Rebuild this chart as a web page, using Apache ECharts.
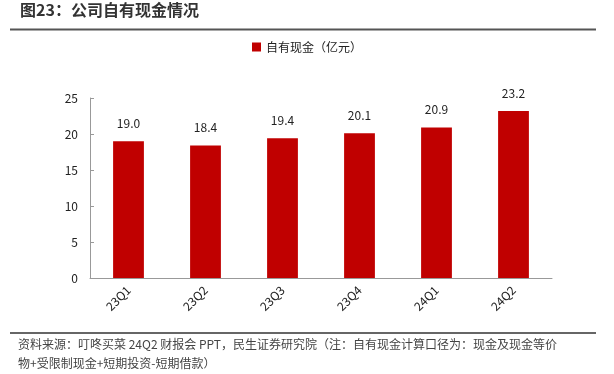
<!DOCTYPE html>
<html><head><meta charset="utf-8">
<script src="https://cdn.jsdelivr.net/npm/echarts@6/dist/echarts.min.js"></script>
<style>html,body{margin:0;padding:0;background:#fff}#c{width:614px;height:374px}</style>
</head><body><div id="c"></div>
<script>
var categories = ['23Q1','23Q2','23Q3','23Q4','24Q1','24Q2'];
var cashValues = [19.0, 18.4, 19.4, 20.1, 20.9, 23.2];
var seriesName = '自有现金（亿元）';
var titleText = '图23：公司自有现金情况';
var noteLine1 = '资料来源：叮咚买菜 24Q2 财报会 PPT，民生证券研究院（注：自有现金计算口径为：现金及现金等价';
var noteLine2 = '物+受限制现金+短期投资-短期借款）';

var F = '"Noto Sans CJK SC","Noto Sans",sans-serif';
var chart = echarts.init(document.getElementById('c'));
chart.setOption({
  animation: false,
  textStyle: {fontFamily: F},
  legend: {
    top: 36, left: 'center',
    itemWidth: 9, itemHeight: 9, itemGap: 5,
    icon: 'rect',
    textStyle: {fontSize: 12, color: '#222', fontFamily: F},
    data: [seriesName]
  },
  grid: {left: 90, right: 62, top: 98, bottom: 96},
  xAxis: {
    type: 'category', data: categories,
    axisLine: {lineStyle: {color: '#999', width: 1}},
    axisTick: {inside: true, length: 4, lineStyle: {color: '#999'}},
    axisLabel: {rotate: 45, fontSize: 12, color: '#222', margin: 10, fontFamily: F}
  },
  yAxis: {
    type: 'value', min: 0, max: 25, interval: 5,
    splitLine: {show: false},
    axisLine: {show: true, lineStyle: {color: '#999', width: 1}},
    axisTick: {show: true, inside: true, length: 4, lineStyle: {color: '#999'}},
    axisLabel: {fontSize: 12, color: '#222', margin: 12, fontFamily: F}
  },
  series: [{
    name: seriesName, type: 'bar', data: cashValues,
    barWidth: '40%',
    itemStyle: {color: '#C00000'},
    label: {show: true, position: 'top', distance: 12, fontSize: 12, color: '#222',
      fontFamily: F, formatter: function(p){return p.value.toFixed(1);}}
  }],
  graphic: [
    {type: 'text', left: 20, top: 2, style: {text: titleText, font: 'bold 16px ' + F, fill: '#333'}},
    {type: 'line', shape: {x1: 10, y1: 29.5, x2: 596, y2: 29.5}, style: {stroke: '#555', lineWidth: 2}},
    {type: 'line', shape: {x1: 10, y1: 333, x2: 596, y2: 333}, style: {stroke: '#666', lineWidth: 2}},
    {type: 'text', left: 18, top: 338, style: {text: noteLine1, font: '12px ' + F, fill: '#444'}},
    {type: 'text', left: 18, top: 357, style: {text: noteLine2, font: '12px ' + F, fill: '#444'}}
  ]
});
</script></body></html>
